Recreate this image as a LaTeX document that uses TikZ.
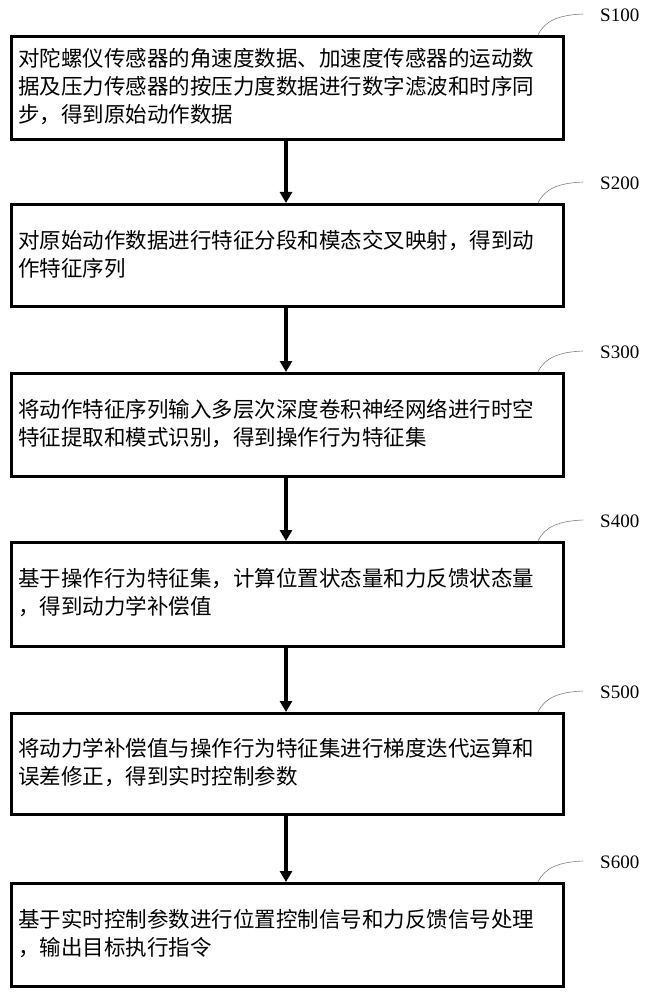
\documentclass[tikz,border=0pt]{standalone}
\usepackage{fontspec}
\setmainfont{Liberation Serif}
\newfontfamily\cjk{Noto Sans CJK SC}
\usetikzlibrary{arrows.meta}
\begin{document}
\begin{tikzpicture}[x=1pt,y=-1pt,
  stepbox/.style={draw,line width=3pt,minimum width=552pt,anchor=north west,inner sep=0pt},
  txt/.style={anchor=west,align=left,font=\cjk\fontsize{21.5}{28}\selectfont,inner sep=0pt},
  lab/.style={font=\fontsize{19}{20}\selectfont,anchor=west,inner sep=0pt},
  lead/.style={draw=gray,line width=0.6pt},
  arr/.style={line width=3.5pt,-{Triangle[length=11pt,width=12pt]}}]
\useasboundingbox (0,0) rectangle (651,1000);
\foreach \i/\t/\b/\s/\tx in {
 1/35/138/S100/{对陀螺仪传感器的角速度数据、加速度传感器的运动数\\据及压力传感器的按压力度数据进行数字滤波和时序同\\步，得到原始动作数据},
 2/203/305/S200/{对原始动作数据进行特征分段和模态交叉映射，得到动\\作特征序列},
 3/372/475/S300/{将动作特征序列输入多层次深度卷积神经网络进行时空\\特征提取和模式识别，得到操作行为特征集},
 4/541/645/S400/{基于操作行为特征集，计算位置状态量和力反馈状态量\\，得到动力学补偿值},
 5/712/813/S500/{将动力学补偿值与操作行为特征集进行梯度迭代运算和\\误差修正，得到实时控制参数},
 6/882/985/S600/{基于实时控制参数进行位置控制信号和力反馈信号处理\\，输出目标执行指令}}{
  \pgfmathsetmacro\h{\b-\t}
  \node[stepbox,minimum height=\h pt] (b\i) at (10,\t) {};
  \node[txt] (t\i) at (18,{(\t+\b)/2}) {\tx};
  \coordinate (c\i) at (583,\t-21);
  \node[lab] (l\i) at (600,\t-20) {\s};
  \draw[lead] (538,\t) .. controls (545,\t-15) and (560,\t-20) .. (c\i);
}
\foreach \i/\j in {1/2,2/3,3/4,4/5,5/6}{
  \draw[arr] (b\i.south -| 286,0) -- (b\j.north -| 286,0);
}
\end{tikzpicture}
\end{document}
